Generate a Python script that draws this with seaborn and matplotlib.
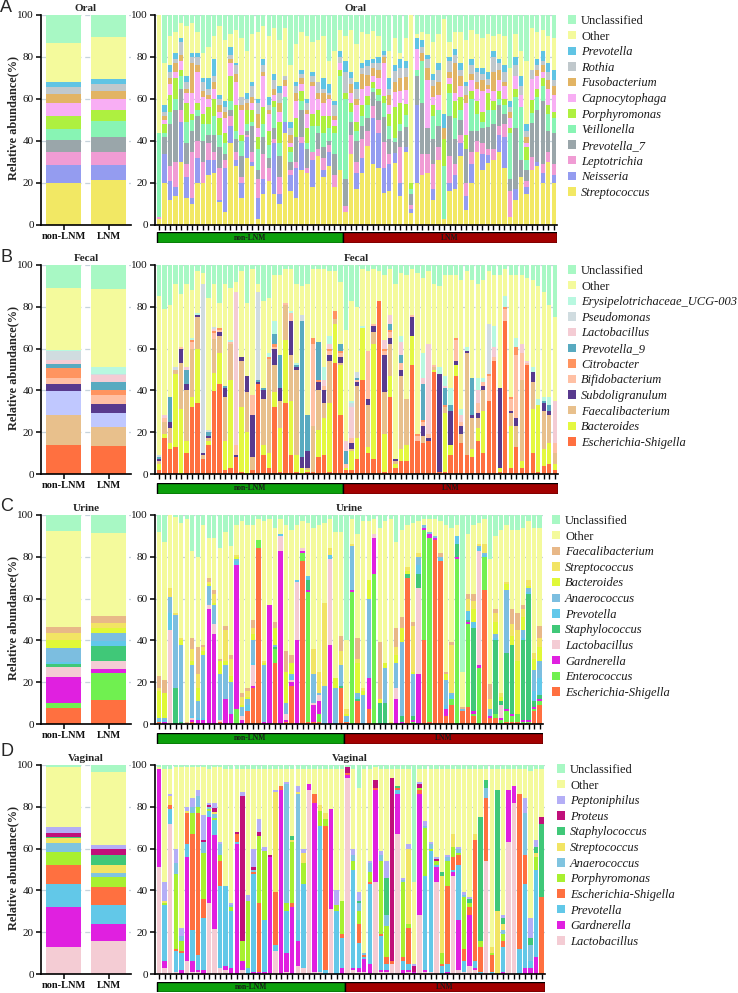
import numpy as np
import pandas as pd
import matplotlib
matplotlib.use("Agg")
import matplotlib.pyplot as plt
from matplotlib.patches import Patch
import seaborn as sns

# ------------------------------------------------------------------ DATA
GROUPS = ["non-LNM", "LNM"]

# ---- Oral (34 non-LNM + 39 LNM samples), bottom -> top
oral_taxa = ["Streptococcus", "Neisseria", "Leptotrichia", "Prevotella_7", "Veillonella",
             "Porphyromonas", "Capnocytophaga", "Fusobacterium", "Rothia", "Prevotella",
             "Other", "Unclassified"]
oral_n = [34, 39]
oral_streptococcus = [3,20,12,14,30,13,10,20,20,24,25,11,6,39,28,13,32,28,3,15,21,15,10,44,16,13,26,25,18,33,23,28,18,26,
                      6,34,17,25,37,30,27,15.5,16,29.5,14,32,5.5,20,24,25,12,31,3,16,17,33,7,20,35,26,29,31,35,27,4,12,23,15,26,28,20,30,20]
oral_neisseria = [0,14,9,4,19,10,3,12,0,7,6,1,21,8,3,7,10,2,10,7,0,24,5,5,8,14,13,0,13,0,3,7,0,0,
                  0,0,8,7,0,23,17,12,13,5,6,2,2,37,0,0,5,0,0,4,7,6,7,9,0,8,4,0,8,15,0,5,0,3,0,2,5,0,4]
oral_leptotrichia = [1,0,7,12,6,6,22,8,10,8,4,15,4,5,4,3,1,5,9,12,6,2,8,0,2,3,3,2,4,3,6,3,6,0,
                     3,9,5,9,7,6,6,12,5,0,17,0,2,0,10,9,12,6,0,13,5,4,6,6,5,5,3,5,4,6,12,0,0,3,6,0,4,5,5]
oral_prevotella7 = [0,8,20,25,10,10,10,12,10,4,8,10,3,3,6,10,2,12,4,8,5,5,10,0,4,12,13,9,0,8,5,2,10,0,
                    13,6,10,6,6,7,9,12,7,5,8,9,5,14,24,12,12,10,0,19,12,7,16,10,5,7,10,12,10,5,6,29,8,5,16,25,30,10,15]
oral_veillonella = [40,2,6,5,6,10,5,3,8,5,9,6,5,4,4,7,3,2,10,6,6,10,6,12,5,0,4,3,12,3,7,6,10,45,
                    38,5,5,5,6,2,3,7,6,2,3,5,2,3,20,0,11,8,25,11,10,5,0,15,8,3,8,7,3,4,22,15,25,5,5,6,7,8,7]
oral_porphyromonas = [0,4,8,10,3,9,3,3,5,8,8,8,5,12,12,3,7,6,6,8,7,3,10,0,2,9,5,7,6,8,8,6,3,3,
                      3,4,4,5,4,3,3,3,6,15,10,5,3,0,0,0,5,0,13,4,8,6,7,4,6,5,8,4,4,3,2,4,0,6,6,4,4,4,3]
oral_capnocytophaga = [0,2,5,3,4,5,10,15,8,4,5,3,7,6,11,12,0,3,4,15,8,3,5,5,2,8,3,7,13,5,6,8,3,3,
                       0,5,8,8,5,3,5,16,4,7,6,6,0,10,0,23,4,7,0,3,4,5,15,5,6,10,2,5,5,6,5,6,6,2,10,6,3,8,8]
oral_fusobacterium = [0,2,3,4,3,2,14,3,3,2,3,3,3,2,4,2,3,3,7,2,2,3,4,3,4,4,3,2,2,3,5,2,2,0,
                      0,4,3,7,5,4,4,3,5,5,6,6,0,0,4,6,5,6,5,3,14,5,4,3,3,5,2,9,5,2,3,0,0,3,0,3,3,4,4]
oral_rothia = [0,2,3,2,6,3,3,4,4,3,3,3,2,2,4,4,2,5,5,3,2,4,5,2,3,3,2,3,3,5,2,1,5,3,
               10,3,5,3,4,2,3,1,3,5,5,4,0,0,3,4,3,6,0,5,4,3,4,4,5,3,3,7,3,5,2,5,4,3,4,2,2,4,3]
oral_prevotella = [0,3,3,3,2,3,2,2,2,5,8,2,3,4,1,0,3,2,2,3,4,3,3,0,3,2,2,2,2,0,5,4,2,3,
                   5,3,3,2,3,2,3,2,5,3,4,3,0,5,3,2,3,3,7,2,3,3,2,3,2,3,3,3,2,3,3,4,5,3,0,3,5,4,5]
oral_other = [56,20,14,10,7,24,14,10,12,15,11,33,29,6,16,28,20,23,32,16,29,22,22,23,27,18,18,30,14,20,20,11,24,10,
              12,20,18,15,12,14,10,0,13,13,3,10,78,2,4,10,15,14,45,7,8,15,20,14,16,14,18,7,12,14,16,11,12,30,20,13,10,13,15]
oral_unclassified = [0,23,10,8,4,5,4,8,18,15,10,5,12,9,7,11,17,9,8,5,10,6,12,6,24,14,8,10,13,12,10,22,17,7,
                     10,7,14,8,9,8,10,17,17,11,18,10,0,9,8,9,13,9,2,13,8,8,12,7,9,11,9,10,9,10,25,9,17,22,6,8,7,10,11]
oral_group_non = [20, 8.5, 6.5, 5.5, 5, 6.5, 6, 4.5, 3, 2.5, 18.5, 13.5]
oral_group_lnm = [21.5, 7, 6.5, 7, 7.5, 5.5, 5, 4, 3, 2.5, 20, 10.5]

# ---- Fecal (34 + 39)
fecal_taxa = ["Escherichia-Shigella", "Bacteroides", "Faecalibacterium", "Subdoligranulum",
              "Bifidobacterium", "Citrobacter", "Prevotella_9", "Lactobacillus", "Pseudomonas",
              "Erysipelotrichaceae_UCG-003", "Other", "Unclassified"]
fecal_n = [34, 39]
fecal_escherichia = [2,17,12,13,0,10,32,34,7,14,40,43,2,3,8,1,0,2,43,9,3,32,1,34,9,1,0,1,1,8,9,1,53,28,
                     2,2,7,45,10,7,83,1,37,3,6,6,52,16,15,16,49,1,1,9,47,15,9,8,16,10,35,54,1,73,3,13,3,52,10,1,4,5,2]
fecal_bacteroides = [3,2,3,35,31,6,5,26,0,2,9,15,14,42,0,31,20,0,0,5,7,7,21,30,26,8,3,1,0,13,18,33,19,24,
                     1,9,10,25,3,55,0,18,10,2,6,8,14,0,0,0,1,0,28,5,5,0,0,4,6,20,0,0,2,0,20,0,3,0,21,32,8,10,3]
fecal_faecalibacterium = [1,6,7,2,22,24,23,15,2,1,16,8,21,17,0,22,19,6,0,22,45,13,13,17,22,41,0,1,22,19,7,20,2,1,
                          0,1,25,0,20,6,0,20,15,1,35,22,0,0,3,0,1,0,3,0,0,4,49,15,5,10,0,0,0,0,6,10,39,0,13,0,18,13,5]
fecal_subdoligranulum = [1,0,3,0,7,3,0,1,1,1,0,2,4,0,1,2,8,20,1,4,0,8,6,0,16,1,5,8,0,4,6,3,0,3,
                         0,3,2,0,3,3,0,18,3,1,3,0,9,0,5,1,0,47,0,16,2,4,1,1,2,2,0,0,38,0,1,4,0,0,5,0,4,2,0]
fecal_bifidobacterium = [0,2,0,0,1,0,3,0,0,0,3,1,0,1,5,0,0,10,0,0,0,1,0,1,4,0,0,0,39,0,2,2,0,2,
                         2,2,1,0,23,1,0,2,3,0,3,0,1,2,2,2,1,0,0,0,10,2,0,0,5,2,12,2,0,6,6,30,13,1,0,0,0,0,5]
fecal_citrobacter = [0,0,0,0,0,0,1,0,0,0,1,1,0,0,0,0,0,0,0,0,1,1,0,0,0,0,0,0,3,1,0,1,4,1,
                     0,0,0,0,0,0,0,1,1,0,0,0,0,1,1,0,0,0,1,0,1,0,0,0,0,0,1,0,0,1,1,4,0,0,0,0,0,0,0]
fecal_prevotella9 = [1,0,12,0,0,7,0,0,0,2,0,0,1,0,0,0,0,0,1,1,0,5,16,0,0,1,65,17,0,18,0,0,0,3,
                     6,0,1,0,0,0,0,0,3,0,4,0,0,0,17,0,0,0,8,3,0,0,0,18,0,0,0,0,0,0,0,0,0,0,0,0,1,3,0]
fecal_lactobacillus = [0,1,0,0,0,1,0,0,0,0,1,0,0,0,73,0,0,0,0,0,0,0,0,0,0,0,0,0,0,0,3,2,0,0,
                       5,15,0,0,0,0,0,4,4,0,6,0,0,0,3,43,0,0,1,0,0,3,0,0,6,0,0,5,0,0,0,0,4,1,0,0,0,0,20]
fecal_pseudomonas = [1,0,0,1,0,0,0,0,81,1,1,0,0,0,0,0,0,0,42,0,0,0,0,0,0,0,3,0,0,0,0,0,0,0,
                     0,2,3,0,0,0,0,0,0,0,0,0,0,0,0,0,0,0,0,0,0,0,0,0,0,0,24,0,0,0,0,0,0,0,0,0,0,0,0]
fecal_erysipelotrichaceae = [0,0,0,0,0,0,1,1,0,0,0,0,0,1,0,0,0,0,0,0,2,6,0,0,1,1,0,0,0,0,6,4,0,0,
                             0,1,0,1,0,0,0,0,0,0,3,0,0,0,12,0,0,3,5,8,0,3,2,0,6,2,0,10,0,5,0,4,0,0,2,3,2,4,0]
fecal_other = [76,51,44,40,25,40,23,20,5,63,21,12,49,25,5,41,35,60,4,42,26,22,38,16,20,38,14,63,33,35,47,31,19,30,
               53,48,31,27,38,26,14,31,22,84,30,59,22,77,36,35,39,39,48,54,30,62,36,47,45,47,25,24,54,13,58,30,33,40,42,54,50,44,40]
fecal_unclassified = [15,21,19,9,14,9,12,3,4,16,9,18,9,11,8,3,18,2,9,17,16,5,5,2,2,9,10,9,2,2,2,3,3,8,
                      31,17,20,2,3,2,3,5,2,9,4,5,2,4,6,3,9,10,5,5,5,7,3,7,9,7,3,5,5,2,5,5,5,6,7,10,13,19,25]
fecal_group_non = [14, 14, 11.5, 3.5, 3, 4.5, 2, 2, 4.5, 0.5, 29.5, 11]
fecal_group_lnm = [13.5, 9, 6.5, 4.5, 4.5, 2, 4, 3.5, 0.5, 3, 37.5, 11.5]

# ---- Urine (34 + 36)
urine_taxa = ["Escherichia-Shigella", "Enterococcus", "Gardnerella", "Lactobacillus", "Staphylococcus",
              "Prevotella", "Anaerococcus", "Bacteroides", "Streptococcus", "Faecalibacterium",
              "Other", "Unclassified"]
urine_n = [34, 36]
urine_escherichia = [1,0,0,0,0,0,1,0,0,0,0,1,0,0,0,0,6,17,84,0,0,29,0,1,18,0,78,1,1,1,0,0,0,17,
                     1,0,11,0,7,0,0,0,0,0,0,70,0,0,40,1,88,78,4,9,0,6,8,4,0,64,3,3,0,1,1,1,0,0,6,9]
urine_enterococcus = [0,0,0,0,0,0,0,0,0,0,0,0,0,0,7,0,0,0,4,0,0,7,0,0,0,0,4,62,0,4,0,0,0,0,
                      0,63,0,0,0,72,0,0,0,0,0,0,1,0,53,88,0,0,0,3,79,0,40,1,27,16,0,2,2,5,3,4,1,1,1,2]
urine_gardnerella = [0,1,0,0,0,0,1,2,2,55,43,0,12,5,69,2,0,1,0,1,57,0,83,1,2,40,1,1,8,6,0,38,0,0,
                     0,1,0,0,15,17,0,0,0,12,1,0,1,24,1,2,1,0,3,0,1,0,1,1,1,0,1,0,1,1,1,0,1,1,1,1]
urine_lactobacillus = [0,0,45,0,0,0,1,0,0,2,5,1,0,0,0,2,0,10,0,0,0,0,7,3,1,28,1,0,1,3,0,41,0,0,
                       0,0,0,0,0,2,0,0,0,5,0,0,0,41,0,0,0,0,0,0,0,0,0,0,55,0,0,0,6,0,0,0,0,0,0,0]
urine_staphylococcus = [0,0,0,17,1,0,0,0,0,0,0,0,0,0,0,0,0,0,0,0,0,1,0,0,0,0,0,5,0,0,0,0,0,1,
                        0,0,1,0,0,0,10,10,0,0,3,2,2,7,0,0,0,0,0,0,6,0,1,40,0,0,0,35,2,27,33,0,38,60,3,2]
urine_prevotella = [1,1,8,0,0,0,1,1,1,0,0,0,0,0,2,0,3,1,0,0,0,0,1,0,2,1,0,2,0,0,0,2,0,0,
                    1,0,1,0,0,0,0,0,0,0,0,0,0,4,0,0,0,1,2,2,4,0,4,3,1,1,0,1,0,0,0,0,1,1,5,8]
urine_anaerococcus = [1,1,8,35,37,0,24,8,30,9,9,22,16,15,1,4,3,11,0,27,0,1,0,5,1,0,0,0,14,1,18,0,17,10,
                      2,21,2,14,38,0,0,17,0,12,35,0,20,4,1,1,1,1,12,1,0,1,0,0,1,1,3,2,0,30,0,0,4,2,10,8]
urine_bacteroides = [13,12,0,0,2,0,2,6,2,1,1,6,2,3,1,1,1,3,0,1,0,8,0,15,5,0,0,0,0,0,0,0,5,0,
                     1,0,14,2,9,0,2,2,0,4,7,1,1,0,0,0,0,0,3,0,0,0,0,6,0,0,0,6,2,3,4,25,6,1,5,7]
urine_streptococcus = [1,0,4,1,1,0,6,7,2,1,4,0,15,8,1,4,3,3,0,1,0,0,0,0,0,0,0,0,12,10,40,3,0,7,
                       2,1,2,1,0,0,0,0,1,4,0,2,22,2,0,0,0,0,0,23,0,0,6,4,1,4,5,4,2,1,6,15,4,3,3,4]
urine_faecalibacterium = [6,6,0,0,0,1,5,13,1,2,2,1,2,2,0,2,1,4,0,0,0,3,0,10,4,0,0,0,0,0,0,0,0,7,
                          0,0,10,0,0,0,27,0,0,9,5,0,2,0,0,0,0,2,1,1,0,1,2,3,0,0,7,2,0,0,7,8,2,0,0,6]
urine_other = [69,66,35,46,55,97,42,43,57,19,25,53,45,52,14,82,78,45,10,67,41,45,7,60,60,26,13,25,58,70,38,14,70,50,
               33,12,50,80,28,7,55,68,97,41,42,20,47,15,3,6,8,15,70,55,5,17,29,33,10,12,60,35,78,27,38,40,37,28,60,47]
urine_unclassified = [8,13,0,1,4,2,17,20,5,11,11,16,8,15,5,3,5,5,2,3,2,6,2,5,7,5,3,4,6,5,4,2,8,8,
                      60,2,9,3,3,2,6,3,2,13,7,5,4,3,2,2,2,3,5,6,5,75,9,5,4,2,21,10,7,5,7,7,6,3,6,6]
urine_group_non = [7.5, 2.5, 12.5, 5, 1, 1, 7, 3.5, 3.5, 3, 46, 7.5]
urine_group_lnm = [11.5, 13, 2, 3.5, 7.5, 2, 4, 2.5, 2.5, 3, 40, 8.5]

# ---- Vaginal (34 + 36)
vaginal_taxa = ["Lactobacillus", "Gardnerella", "Prevotella", "Escherichia-Shigella", "Porphyromonas",
                "Anaerococcus", "Streptococcus", "Staphylococcus", "Proteus", "Peptoniphilus",
                "Other", "Unclassified"]
vaginal_n = [34, 36]
vaginal_lactobacillus = [51,3,72,1,0,6,1,1,0,34,21,3,2,0,0,2,0,0,0,0,0,11,0,1,0,4,3,88,1,1,0,31,0,0,
                         94,2,1,1,0,44,1,1,5,67,0,1,0,28,1,1,44,0,0,47,2,1,4,2,0,54,0,0,0,63,82,0,0,0,0,0]
vaginal_gardnerella = [47,3,0,0,2,50,5,1,2,41,44,0,2,3,62,4,0,1,1,1,56,0,88,9,32,12,0,3,81,0,0,48,0,3,
                       1,1,2,6,5,44,1,1,0,19,2,1,1,58,1,0,7,0,1,2,24,0,24,1,0,0,0,0,1,25,8,0,3,3,8,0]
vaginal_prevotella = [0,27,7,10,8,6,15,7,25,3,7,39,38,27,1,0,3,47,0,25,0,3,0,20,0,10,40,0,0,70,2,0,30,14,
                      0,47,12,1,38,0,16,3,0,2,4,3,0,0,45,58,1,4,4,1,26,5,0,3,1,0,1,0,12,0,0,12,40,3,42,0]
vaginal_escherichia = [0,0,2,1,1,15,46,68,9,0,0,12,0,0,4,0,0,1,33,0,0,25,2,0,2,0,0,0,4,0,69,0,0,2,
                       1,0,9,1,1,1,1,3,1,1,2,17,0,2,0,0,0,1,37,6,5,6,4,58,12,30,8,0,3,0,0,74,14,0,0,37]
vaginal_porphyromonas = [0,1,0,36,5,0,10,3,22,1,1,3,0,2,0,10,32,0,32,33,0,0,0,4,29,0,10,0,0,7,3,0,3,16,
                         0,4,6,0,5,0,35,15,0,0,36,2,0,1,23,1,2,5,12,5,1,25,2,0,3,0,1,0,3,0,0,0,0,0,6,0]
vaginal_anaerococcus = [0,0,0,5,2,0,3,5,5,1,2,5,0,1,0,0,0,1,0,0,0,0,0,57,0,60,0,0,0,0,0,0,0,0,
                        0,3,4,1,4,0,3,5,0,0,1,0,0,0,1,2,0,0,2,0,2,1,0,0,0,5,0,0,2,0,0,0,20,8,0,0]
vaginal_streptococcus = [0,1,4,0,0,1,0,0,0,0,1,0,0,0,0,0,0,0,0,0,0,48,0,0,1,1,5,0,0,3,3,0,0,0,
                         0,0,0,0,0,0,0,0,0,0,0,36,0,0,0,0,0,37,0,6,0,0,0,3,0,0,3,30,3,0,0,0,0,0,2,0]
vaginal_staphylococcus = [0,0,0,0,0,0,0,0,0,0,0,0,0,0,0,0,0,0,0,0,0,0,0,0,2,0,0,0,0,0,0,0,0,0,
                          0,0,1,0,0,0,0,18,0,1,0,0,0,0,0,0,0,2,0,0,0,0,2,0,59,4,0,58,3,0,0,0,0,3,3,35]
vaginal_proteus = [0,0,0,0,0,0,0,0,1,1,2,0,0,0,1,69,0,1,2,0,1,0,0,0,0,0,0,0,0,0,0,0,0,0,
                   3,0,0,0,0,4,0,0,88,0,0,0,3,2,0,0,1,0,0,0,0,0,0,0,0,0,0,0,0,0,0,0,0,0,0,3]
vaginal_peptoniphilus = [0,9,1,7,4,2,4,3,12,1,2,1,0,1,0,2,3,9,6,2,0,1,0,1,0,3,2,0,0,0,0,0,7,0,
                         0,3,4,0,1,0,2,8,0,0,1,2,1,1,2,1,1,0,1,0,1,1,1,0,0,0,0,0,1,0,0,0,7,10,3,0]
vaginal_other = [1,54,12,39,77,19,15,11,23,16,17,36,56,64,30,11,60,38,24,37,41,10,8,6,32,8,38,7,12,17,21,19,58,63,
                 0,38,50,88,44,6,39,44,4,8,52,36,39,6,25,35,42,49,41,31,37,59,61,31,23,5,85,10,70,10,8,12,14,70,34,23]
vaginal_unclassified = [1,2,2,1,1,1,1,1,1,2,1,1,2,2,2,2,2,2,2,2,2,2,2,2,2,2,2,2,2,2,2,2,2,2,
                        1,2,11,2,2,1,2,2,2,2,2,2,56,2,2,2,2,2,2,2,2,2,2,2,2,2,2,2,2,2,2,2,2,3,2,2]
vaginal_group_non = [13, 19, 11, 9, 6.5, 4, 2.5, 0.5, 2, 3, 28.5, 1]
vaginal_group_lnm = [16, 8, 9, 8.5, 5, 2, 3.5, 5, 3, 1.5, 35, 3.5]

# ------------------------------------------------------------------ STYLE
UNC, OTH = "#A8F8C4", "#F4FA9C"
oral_colors = ["#F2E864", "#949CF0", "#F09CD4", "#9AA6AA", "#88F4B4", "#AEF040",
               "#F8AEF4", "#E2B464", "#C0C8CC", "#60C4E4", OTH, UNC]
fecal_colors = ["#FF7040", "#E4F840", "#E8C08C", "#583A8E", "#FFC0A4", "#FF9460",
                "#58AAC0", "#F4CCD4", "#D0DCE0", "#B8F8E0", OTH, UNC]
fecal_group_colors = ["#FF7040", "#E8C08C", "#C0C8FF", "#583A8E", "#FFC0A4", "#FF9460",
                      "#58AAC0", "#F4CCD4", "#D0DCE0", "#B8F8E0", OTH, UNC]
urine_colors = ["#FF7040", "#70F050", "#E020E0", "#F4CCD4", "#40C878", "#62C8EA",
                "#7CBEE0", "#E0F838", "#F2E464", "#E8B888", OTH, UNC]
vaginal_colors = ["#F4CCD4", "#E020E0", "#62C8E8", "#FF7040", "#A8F030", "#80C4E0",
                  "#F2E464", "#40C878", "#C0107A", "#B4AEF6", OTH, UNC]

panels = [
    dict(name="Oral", letter="A", taxa=oral_taxa, n=oral_n, colors=oral_colors, gcolors=oral_colors,
         layers=[oral_streptococcus, oral_neisseria, oral_leptotrichia, oral_prevotella7, oral_veillonella,
                 oral_porphyromonas, oral_capnocytophaga, oral_fusobacterium, oral_rothia, oral_prevotella,
                 oral_other, oral_unclassified],
         group=[oral_group_non, oral_group_lnm], top=15, bot=225, strip=(232, 243), right=557,
         leg=(568, 15), letter_y=7),
    dict(name="Fecal", letter="B", taxa=fecal_taxa, n=fecal_n, colors=fecal_colors, gcolors=fecal_group_colors,
         layers=[fecal_escherichia, fecal_bacteroides, fecal_faecalibacterium, fecal_subdoligranulum,
                 fecal_bifidobacterium, fecal_citrobacter, fecal_prevotella9, fecal_lactobacillus,
                 fecal_pseudomonas, fecal_erysipelotrichaceae, fecal_other, fecal_unclassified],
         group=[fecal_group_non, fecal_group_lnm], top=265, bot=474, strip=(483, 494), right=558,
         leg=(568, 265), letter_y=257),
    dict(name="Urine", letter="C", taxa=urine_taxa, n=urine_n, colors=urine_colors, gcolors=urine_colors,
         layers=[urine_escherichia, urine_enterococcus, urine_gardnerella, urine_lactobacillus,
                 urine_staphylococcus, urine_prevotella, urine_anaerococcus, urine_bacteroides,
                 urine_streptococcus, urine_faecalibacterium, urine_other, urine_unclassified],
         group=[urine_group_non, urine_group_lnm], top=515, bot=724, strip=(733, 744), right=543,
         leg=(552, 515), letter_y=507),
    dict(name="Vaginal", letter="D", taxa=vaginal_taxa, n=vaginal_n, colors=vaginal_colors, gcolors=vaginal_colors,
         layers=[vaginal_lactobacillus, vaginal_gardnerella, vaginal_prevotella, vaginal_escherichia,
                 vaginal_porphyromonas, vaginal_anaerococcus, vaginal_streptococcus, vaginal_staphylococcus,
                 vaginal_proteus, vaginal_peptoniphilus, vaginal_other, vaginal_unclassified],
         group=[vaginal_group_non, vaginal_group_lnm], top=765, bot=974, strip=(982, 992), right=545,
         leg=(557, 764), letter_y=752),
]

sns.set_theme(style="ticks")
plt.rcParams["font.family"] = ["Liberation Serif", "DejaVu Serif"]
plt.rcParams["axes.linewidth"] = 1.2
plt.rcParams["axes.edgecolor"] = "black"

W, H = 738, 993
fig = plt.figure(figsize=(W / 100, H / 100), dpi=100)


def rect(l, t, r, b):
    return [l / W, 1 - b / H, (r - l) / W, (b - t) / H]


GRID = "#C6D3DC"


def stacked(ax, cats, layers, colors, width, normalize=True):
    arr = np.array(layers, dtype=float)
    if normalize:
        arr = arr / arr.sum(axis=0) * 100.0
    cum = np.cumsum(arr, axis=0)
    for i in range(len(layers) - 1, -1, -1):
        df = pd.DataFrame({"sample": cats, "value": cum[i]})
        sns.barplot(data=df, x="sample", y="value", order=cats, color=colors[i], width=width,
                    saturation=1, errorbar=None, ax=ax, linewidth=0)


def style(ax):
    ax.set_ylim(0, 100)
    ax.set_yticks([0, 20, 40, 60, 80, 100])
    ax.yaxis.grid(True, color=GRID, linestyle=(0, (4, 3)), linewidth=0.9)
    ax.xaxis.grid(False)
    ax.set_axisbelow(True)
    sns.despine(ax=ax)
    ax.set_xlabel("")
    ax.set_ylabel("")
    ax.tick_params(axis="both", direction="out", color="black", width=1.1, length=3.5,
                   labelsize=8, pad=1.5, left=True, bottom=True, labelcolor="#111111")


for p in panels:
    top, bot = p["top"], p["bot"]
    # --- group (mean) bars
    gax = fig.add_axes(rect(41, top, 131, bot))
    stacked(gax, GROUPS, np.array(p["group"]).T, p["gcolors"], 0.76, normalize=False)
    style(gax)
    gax.set_xlim(-0.5, 1.5)
    gax.set_xticks([0, 1])
    gax.set_xticklabels(GROUPS, fontweight="bold", fontsize=7.5)
    gax.set_title(p["name"], fontweight="bold", fontsize=8, pad=3)
    fig.text(13 / W, 1 - ((top + bot) / 2 - 2) / H, "Relative abundance(%)", rotation=90,
             fontweight="bold", fontsize=8.8, ha="center", va="center")
    fig.text(0 / W, 1 - p["letter_y"] / H, p["letter"], fontsize=13, ha="left", va="center",
             family=["Liberation Sans", "DejaVu Sans"])

    # --- per-sample bars
    n_non, n_lnm = p["n"]
    N = n_non + n_lnm
    cats = [f"S{i:02d}" for i in range(N)]
    sax = fig.add_axes(rect(155, top, p["right"], bot))
    stacked(sax, cats, p["layers"], p["colors"], 0.8)
    style(sax)
    xl = (-0.75, N - 0.4)
    sax.set_xlim(*xl)
    sax.set_xticks(range(N))
    sax.set_xticklabels([])
    sax.tick_params(axis="x", length=3.5, width=1.0)
    sax.set_title(p["name"], fontweight="bold", fontsize=8, pad=3)

    # --- group strip
    s0, s1 = p["strip"]
    tax = fig.add_axes(rect(155, s0, p["right"], s1))
    tax.barh([0], [n_non], left=[-0.45], height=1, color="#0CA00C", edgecolor="black", linewidth=1)
    tax.barh([0], [n_lnm], left=[n_non - 0.45], height=1, color="#A20000", edgecolor="black", linewidth=1)
    tax.set_xlim(*xl)
    tax.set_ylim(-0.5, 0.5)
    tax.axis("off")
    tax.text(-0.45 + n_non / 2, 0, "non-LNM", ha="center", va="center", fontsize=5.5,
             fontweight="bold", color="#1a1a1a")
    tax.text(n_non - 0.45 + n_lnm / 2, 0, "LNM", ha="center", va="center", fontsize=5.5,
             fontweight="bold", color="#1a1a1a")

    # --- legend
    handles = [Patch(facecolor=c, edgecolor="none") for c in reversed(p["colors"])]
    lx, ly = p["leg"]
    leg = fig.legend(handles, list(reversed(p["taxa"])), loc="upper left",
                     bbox_to_anchor=(lx / W, 1 - ly / H), bbox_transform=fig.transFigure,
                     frameon=False, fontsize=9, handlelength=0.65, handleheight=0.65,
                     handletextpad=0.4, labelspacing=0.29, borderpad=0, borderaxespad=0)
    for t in leg.get_texts():
        t.set_color("#1a1a1a")
        if t.get_text() not in ("Unclassified", "Other"):
            t.set_fontstyle("italic")

fig.savefig("out.png", dpi=100)
